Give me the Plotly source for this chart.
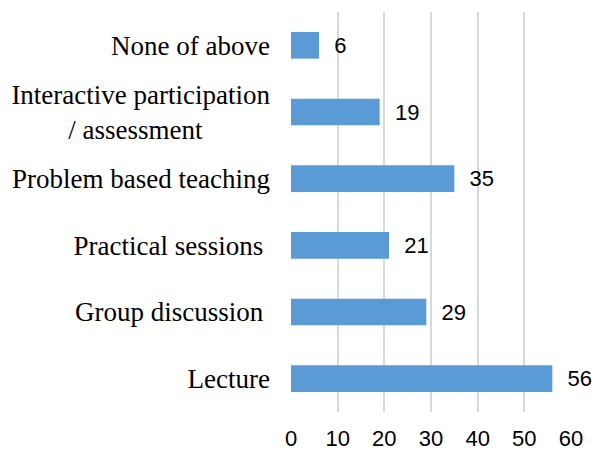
import plotly.graph_objects as go

NB = "\u00a0"
categories = [
    "Lecture",
    "Group discussion" + NB,
    "Practical sessions" + NB,
    "Problem based teaching",
    "Interactive participation<br>/ assessment" + NB * 10,
    "None of above",
]
values = [56, 29, 21, 35, 19, 6]
x_ticks = [0, 10, 20, 30, 40, 50, 60]

fig = go.Figure(
    go.Bar(
        x=values,
        y=categories,
        orientation="h",
        marker=dict(color="#5b9bd5", line=dict(width=0)),
        text=values,
        texttemplate=NB * 2 + "%{x}",
        textposition="outside",
        textfont=dict(family="Liberation Sans", size=22, color="#000000"),
        cliponaxis=False,
        width=0.4,
    )
)

fig.update_layout(
    width=594,
    height=452,
    margin=dict(l=291, r=23, t=12, b=40, autoexpand=False),
    paper_bgcolor="white",
    plot_bgcolor="white",
    showlegend=False,
    xaxis=dict(
        range=[0, 60],
        tickvals=x_ticks,
        showgrid=True,
        gridcolor="#d9d9d9",
        gridwidth=1.5,
        zeroline=False,
        showline=False,
        ticks="",
        automargin=False,
        ticklabelstandoff=11,
        tickfont=dict(family="Liberation Sans", size=22, color="#000000"),
    ),
    yaxis=dict(
        type="category",
        categoryorder="array",
        categoryarray=categories,
        showgrid=False,
        zeroline=False,
        showline=False,
        ticks="",
        automargin=False,
        ticklabelstandoff=20,
        tickfont=dict(family="Liberation Serif", size=27, color="#000000"),
    ),
)

fig.write_html("out.html")
